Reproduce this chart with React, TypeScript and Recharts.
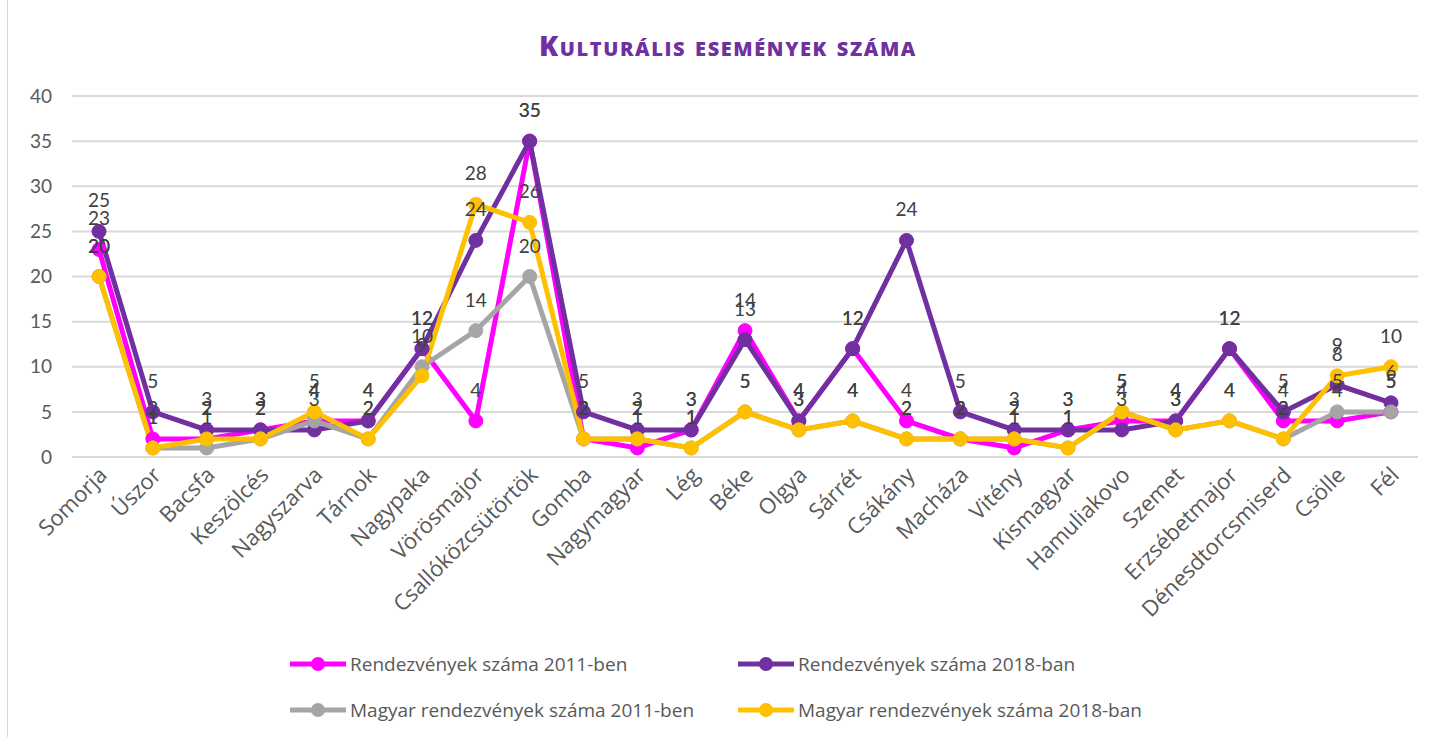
import { CartesianGrid, LabelList, Legend, Line, LineChart, XAxis, YAxis } from 'recharts'

const categories = [
  'Somorja', 'Úszor', 'Bacsfa', 'Keszölcés', 'Nagyszarva', 'Tárnok', 'Nagypaka', 'Vörösmajor',
  'Csallóközcsütörtök', 'Gomba', 'Nagymagyar', 'Lég', 'Béke', 'Olgya', 'Sárrét', 'Csákány',
  'Macháza', 'Vitény', 'Kismagyar', 'Hamuliakovo', 'Szemet', 'Erzsébetmajor', 'Dénesdtorcsmiserd',
  'Csölle', 'Fél',
]
const rendezvenyek2011 = [23, 2, 2, 3, 4, 4, 12, 4, 35, 2, 1, 3, 14, 4, 12, 4, 2, 1, 3, 4, 4, 12, 4, 4, 5]
const rendezvenyek2018 = [25, 5, 3, 3, 3, 4, 12, 24, 35, 5, 3, 3, 13, 4, 12, 24, 5, 3, 3, 3, 4, 12, 5, 8, 6]
const magyar2011 = [20, 1, 1, 2, 4, 2, 10, 14, 20, 2, 2, 1, 5, 3, 4, 2, 2, 2, 1, 5, 3, 4, 2, 5, 5]
const magyar2018 = [20, 1, 2, 2, 5, 2, 9, 28, 26, 2, 2, 1, 5, 3, 4, 2, 2, 2, 1, 5, 3, 4, 2, 9, 10]
const yTicks = [0, 5, 10, 15, 20, 25, 30, 35, 40]

const series = [
  { key: 'r2011', name: 'Rendezvények száma 2011-ben', color: '#FF00FF' },
  { key: 'r2018', name: 'Rendezvények száma 2018-ban', color: '#7030A0' },
  { key: 'm2011', name: 'Magyar rendezvények száma 2011-ben', color: '#A5A5A5' },
  { key: 'm2018', name: 'Magyar rendezvények száma 2018-ban', color: '#FFC000' },
]

const chartData = categories.map((name, i) => ({
  name,
  r2011: rendezvenyek2011[i],
  r2018: rendezvenyek2018[i],
  m2011: magyar2011[i],
  m2018: magyar2018[i],
}))

const FONT = 'Lato, "Open Sans", sans-serif'
const OPEN = '"Open Sans", sans-serif'

function RotatedTick({ x, y, payload }: any) {
  return (
    <g transform={`translate(${x + 4},${y + 6})`}>
      <text
        transform="rotate(-45)"
        textAnchor="end"
        dy="0.35em"
        fill="#595959"
        fontSize={22}
        fontFamily={OPEN}
      >
        {payload.value}
      </text>
    </g>
  )
}

function LegendBox() {
  return (
    <div
      style={{
        display: 'grid',
        gridTemplateColumns: '448px 460px',
        rowGap: 22,
        paddingLeft: 290,
        fontFamily: OPEN,
        fontSize: 19,
        color: '#595959',
      }}
    >
      {series.map((s) => (
        <div key={s.key} style={{ display: 'flex', alignItems: 'center', height: 24 }}>
          <svg width={56} height={16} style={{ marginRight: 4 }}>
            <line x1={0} y1={8} x2={56} y2={8} stroke={s.color} strokeWidth={5} />
            <circle cx={28} cy={8} r={7} fill={s.color} />
          </svg>
          <span>{s.name}</span>
        </div>
      ))}
    </div>
  )
}

export default function App() {
  return (
    <div
      style={{
        position: 'absolute',
        left: 0,
        top: 0,
        width: 1438,
        height: 737,
        background: '#fff',
        overflow: 'hidden',
      }}
    >
      <div
        style={{
          position: 'absolute',
          left: 7,
          top: -1,
          width: 1440,
          height: 740,
          border: '1px solid #d9d9d9',
        }}
      />
      <div
        style={{
          position: 'absolute',
          top: 26,
          left: 0,
          width: 1456,
          textAlign: 'center',
          fontFamily: OPEN,
          fontWeight: 800,
          fontVariant: 'small-caps',
          fontSize: 28,
          letterSpacing: 1.6,
          color: '#7030A0',
        }}
      >
        Kulturális események száma
      </div>
      <LineChart
        width={1438}
        height={737}
        data={chartData}
        margin={{ top: 96, right: 20, bottom: 100, left: 12 }}
      >
        <CartesianGrid vertical={false} stroke="#d9d9d9" strokeWidth={2} />
        <XAxis
          dataKey="name"
          interval={0}
          height={180}
          padding={{ left: 27, right: 27 }}
          axisLine={{ stroke: '#d9d9d9', strokeWidth: 2 }}
          tickLine={false}
          tick={<RotatedTick />}
        />
        <YAxis
          width={60}
          domain={[0, 40]}
          ticks={yTicks}
          axisLine={false}
          tickLine={false}
          tickMargin={14}
          tick={{ fill: '#595959', fontSize: 19, fontFamily: FONT }}
        />
        <Legend
          layout="horizontal"
          verticalAlign="middle"
          align="center"
          wrapperStyle={{ top: 652, left: 0, width: 1438 }}
          content={<LegendBox />}
        />
        {series.map((s) => (
          <Line
            key={s.key}
            dataKey={s.key}
            name={s.name}
            type="linear"
            stroke={s.color}
            strokeWidth={5}
            dot={{ r: 7, fill: s.color, stroke: s.color, strokeWidth: 1 }}
            activeDot={false}
            isAnimationActive={false}
          >
            <LabelList
              dataKey={s.key}
              position="top"
              offset={24}
              fill="#404040"
              fontSize={19}
              fontFamily={FONT}
            />
          </Line>
        ))}
      </LineChart>
    </div>
  )
}
